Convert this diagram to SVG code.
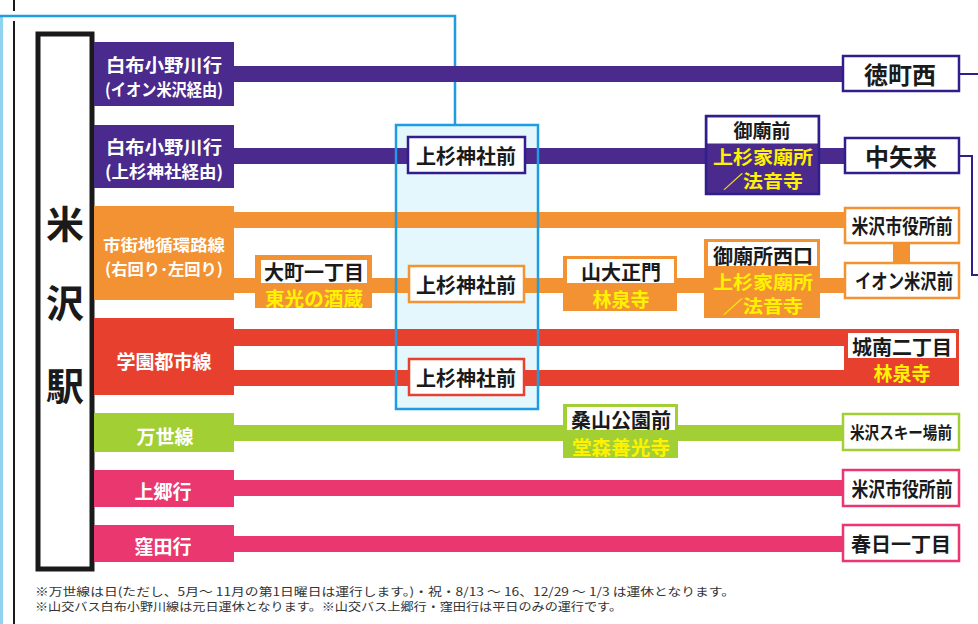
<svg xmlns="http://www.w3.org/2000/svg" width="978" height="624" viewBox="0 0 978 624">
<style>
text{font-family:"Noto Sans CJK JP","Noto Sans",sans-serif;font-weight:700;dominant-baseline:central;text-anchor:middle}
.w{fill:#fff}
.k{fill:#1a1a1a}
.y{fill:#fff200}
.pu{fill:#4a2a8c}
.or{fill:#f39233}
.rd{fill:#e8402f}
.gr{fill:#a2cf33}
.pk{fill:#ea3770}
.lbl{font-size:18px}
.st{font-size:20px}
.ys{font-size:19px}
.yt{font-size:18px}
.big{font-size:24px}
.note{font-size:11.5px;font-weight:400;fill:#333;text-anchor:start;dominant-baseline:alphabetic}
.bpu{fill:#fff;stroke:#321d8c;stroke-width:2.5}
.bor{fill:#fff;stroke:#f39233;stroke-width:2.5}
.brd{fill:#fff;stroke:#e8402f;stroke-width:2.5}
.bgr{fill:#fff;stroke:#a2cf33;stroke-width:2.5}
.bpk{fill:#fff;stroke:#ea3770;stroke-width:2.5}
</style>

<!-- page edges and transfer indicator -->
<line x1="1.5" y1="16" x2="1.5" y2="624" stroke="#8fd3f0" stroke-width="3"/>
<line x1="14" y1="0" x2="14" y2="11" stroke="#1a1a1a" stroke-width="2"/>
<line x1="14" y1="21" x2="14" y2="624" stroke="#1a1a1a" stroke-width="2"/>

<!-- shrine area fill -->
<rect id="shrine-area-fill" x="396" y="125" width="142" height="284" fill="#e4f7fc"/>

<g id="connectors">
  <!-- blue indicator -->
  <polyline points="0,16 455,16 455,125" fill="none" stroke="#1f9de3" stroke-width="2.5"/>
  <!-- purple -->
  <rect class="pu" x="234" y="66" width="610" height="16"/>
  <rect class="pu" x="234" y="148" width="612" height="16"/>
  <polyline points="959,74 978,74" fill="none" stroke="#321d8c" stroke-width="2"/>
  <polyline points="959,156 972,156 972,275 978,275" fill="none" stroke="#321d8c" stroke-width="2"/>
  <!-- orange -->
  <rect class="or" x="234" y="212" width="612" height="16"/>
  <rect class="or" x="234" y="278" width="612" height="15"/>
  <rect class="or" x="893" y="243" width="17" height="20"/>
  <!-- red -->
  <rect class="rd" x="234" y="329" width="612" height="17"/>
  <rect class="rd" x="234" y="370" width="612" height="16"/>
  <!-- green -->
  <rect class="gr" x="234" y="425" width="610" height="16"/>
  <!-- pink -->
  <rect class="pk" x="234" y="480" width="610" height="16"/>
  <rect class="pk" x="234" y="536" width="610" height="16"/>
</g>

<rect id="shrine-area" x="396" y="125" width="142" height="284" fill="none" stroke="#1f9de3" stroke-width="2.5"/>

<g id="yonezawa-station">
  <rect x="38" y="34" width="54" height="535" fill="#fff" stroke="#1a1a1a" stroke-width="5"/>
  <text class="k" x="65" y="221" style="font-size:38px">米</text>
  <text class="k" x="65" y="300" style="font-size:38px">沢</text>
  <text class="k" x="65" y="383" style="font-size:38px">駅</text>
</g>

<g id="route-shirabu-aeon">
  <rect class="pu" x="94" y="42" width="140" height="64"/>
  <text class="w lbl" x="164" y="64" textLength="116" lengthAdjust="spacingAndGlyphs">白布小野川行</text>
  <text class="w" x="164" y="88" textLength="118" lengthAdjust="spacingAndGlyphs" style="font-size:17px">(イオン米沢経由)</text>
</g>
<g id="route-shirabu-uesugi">
  <rect class="pu" x="94" y="125" width="140" height="63"/>
  <text class="w lbl" x="164" y="146" textLength="116" lengthAdjust="spacingAndGlyphs">白布小野川行</text>
  <text class="w" x="164" y="170" textLength="118" lengthAdjust="spacingAndGlyphs" style="font-size:17px">(上杉神社経由)</text>
</g>
<g id="route-loop">
  <rect class="or" x="94" y="206" width="140" height="94"/>
  <text class="w" x="164" y="244" style="font-size:16px" textLength="122" lengthAdjust="spacingAndGlyphs">市街地循環路線</text>
  <text class="w" x="164" y="268" style="font-size:16px" textLength="118" lengthAdjust="spacingAndGlyphs">(右回り･左回り)</text>
</g>
<g id="route-gakuen">
  <rect class="rd" x="94" y="318" width="140" height="77"/>
  <text class="w" x="164" y="360" style="font-size:19px">学園都市線</text>
</g>
<g id="route-bansei">
  <rect class="gr" x="94" y="413" width="140" height="39"/>
  <text class="w" x="165" y="435" style="font-size:19px">万世線</text>
</g>
<g id="route-kamigo">
  <rect class="pk" x="94" y="470" width="140" height="37"/>
  <text class="w" x="163" y="490" style="font-size:19px">上郷行</text>
</g>
<g id="route-kubota">
  <rect class="pk" x="94" y="525" width="140" height="37"/>
  <text class="w" x="163" y="545" style="font-size:19px">窪田行</text>
</g>

<g id="st-tokumachi-nishi">
  <rect class="bpu" x="843" y="56" width="116" height="35"/>
  <text class="k big" x="900" y="73">徳町西</text>
</g>
<g id="st-nakayarai">
  <rect class="bpu" x="845" y="138" width="114" height="35"/>
  <text class="k big" x="901" y="155">中矢来</text>
</g>
<g id="st-uesugi-purple">
  <rect class="bpu" x="408" y="137" width="117" height="36"/>
  <text class="k st" x="466" y="155">上杉神社前</text>
</g>
<g id="st-gobyomae">
  <rect x="706" y="116" width="113" height="78" fill="#4a2a8c" stroke="#321d8c" stroke-width="2.5"/>
  <rect x="707.5" y="117.5" width="110" height="26" fill="#fff"/>
  <text class="k" x="762" y="129" style="font-size:19px">御廟前</text>
  <text class="y yt" x="763" y="156" textLength="100" lengthAdjust="spacingAndGlyphs">上杉家廟所</text>
  <text class="y yt" x="763" y="180" textLength="80" lengthAdjust="spacingAndGlyphs">／法音寺</text>
</g>

<g id="st-shiyakusho-orange">
  <rect class="bor" x="845" y="208" width="114" height="35"/>
  <text class="k st" x="902" y="225" textLength="101" lengthAdjust="spacingAndGlyphs">米沢市役所前</text>
</g>
<g id="st-aeon">
  <rect class="bor" x="845" y="263" width="114" height="35"/>
  <text class="k st" x="904" y="280" textLength="98" lengthAdjust="spacingAndGlyphs">イオン米沢前</text>
</g>
<g id="st-omachi">
  <rect class="or" x="255" y="255" width="117" height="53"/>
  <rect x="261" y="260" width="106" height="23" fill="#fff"/>
  <text class="k st" x="314" y="271">大町一丁目</text>
  <text class="y ys" x="314" y="297" textLength="98" lengthAdjust="spacingAndGlyphs">東光の酒蔵</text>
</g>
<g id="st-uesugi-orange">
  <rect class="bor" x="409" y="266" width="115" height="36"/>
  <text class="k st" x="466" y="284">上杉神社前</text>
</g>
<g id="st-yamadai">
  <rect class="or" x="563" y="256" width="114" height="55"/>
  <rect x="567" y="259" width="107" height="24" fill="#fff"/>
  <text class="k st" x="621" y="271">山大正門</text>
  <text class="y ys" x="621" y="298">林泉寺</text>
</g>
<g id="st-gobyosho-nishiguchi">
  <rect class="or" x="704" y="239" width="116" height="79"/>
  <rect x="708" y="242" width="109" height="24" fill="#fff"/>
  <text class="k st" x="763" y="255">御廟所西口</text>
  <text class="y yt" x="763" y="281" textLength="100" lengthAdjust="spacingAndGlyphs">上杉家廟所</text>
  <text class="y yt" x="763" y="305" textLength="80" lengthAdjust="spacingAndGlyphs">／法音寺</text>
</g>

<g id="st-jonan">
  <rect class="rd" x="844" y="329" width="115" height="57"/>
  <rect x="848" y="333" width="108" height="25" fill="#fff"/>
  <text class="k st" x="902" y="346">城南二丁目</text>
  <text class="y ys" x="902" y="372">林泉寺</text>
</g>
<g id="st-uesugi-red">
  <rect class="brd" x="409" y="359" width="115" height="36"/>
  <text class="k st" x="466" y="377">上杉神社前</text>
</g>

<g id="st-kuwayama">
  <rect class="gr" x="563" y="404" width="115" height="54"/>
  <rect x="567" y="407" width="108" height="23" fill="#fff"/>
  <text class="k st" x="621" y="419">桑山公園前</text>
  <text class="y ys" x="621" y="446" textLength="98" lengthAdjust="spacingAndGlyphs">堂森善光寺</text>
</g>
<g id="st-ski">
  <rect class="bgr" x="843" y="414" width="116" height="36"/>
  <text class="k" x="901" y="432" style="font-size:16.5px" textLength="102" lengthAdjust="spacingAndGlyphs">米沢スキー場前</text>
</g>
<g id="st-shiyakusho-pink">
  <rect class="bpk" x="843" y="470" width="116" height="36"/>
  <text class="k st" x="902" y="488" textLength="101" lengthAdjust="spacingAndGlyphs">米沢市役所前</text>
</g>
<g id="st-kasuga">
  <rect class="bpk" x="843" y="525" width="116" height="36"/>
  <text class="k st" x="901" y="543">春日一丁目</text>
</g>

<g id="notes">
  <text class="note" x="35" y="596" textLength="700" lengthAdjust="spacingAndGlyphs">※万世線は日(ただし、5月～ 11月の第1日曜日は運行します。)・祝・8/13 ～ 16、12/29 ～ 1/3 は運休となります。</text>
  <text class="note" x="35" y="611" textLength="587" lengthAdjust="spacingAndGlyphs">※山交バス白布小野川線は元日運休となります。※山交バス上郷行・窪田行は平日のみの運行です。</text>
</g>
</svg>
